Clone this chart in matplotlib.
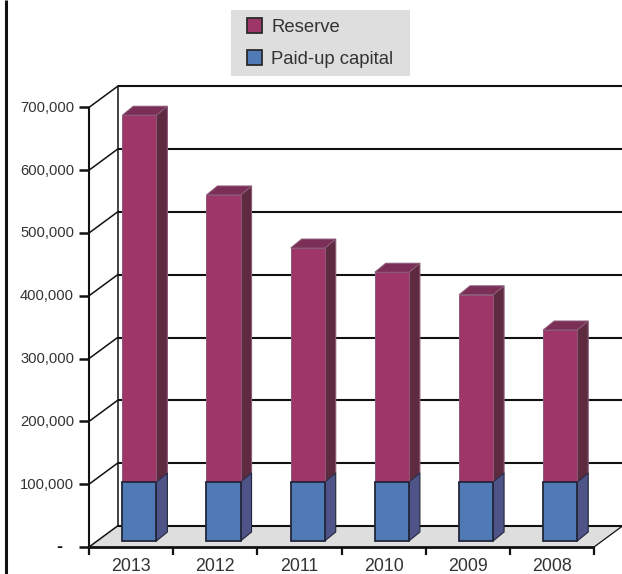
import matplotlib
matplotlib.use("Agg")
import matplotlib.pyplot as plt
from matplotlib.patches import Polygon, Rectangle

years = ["2013", "2012", "2011", "2010", "2009", "2008"]
paid_up_capital = [94000, 94000, 94000, 94000, 94000, 94000]
reserve = [584000, 457000, 372500, 334000, 298000, 242000]
y_ticks = [0, 100000, 200000, 300000, 400000, 500000, 600000, 700000]

RESERVE_FRONT, RESERVE_TOP, RESERVE_SIDE = "#9e3768", "#7b2f57", "#5e2a3f"
CAPITAL_FRONT, CAPITAL_SIDE = "#4f7ab5", "#4f5488"
INK = "#111111"
TEXT = "#333333"
FLOOR = "#dedede"

plt.rcParams["font.family"] = ["Liberation Sans", "DejaVu Sans"]

W, H = 622, 574
fig = plt.figure(figsize=(W / 100, H / 100), dpi=100)
ax = fig.add_axes([0, 0, 1, 1])

# One category is 84.17 px wide, 100,000 is 62.8 px tall; origin at (89, 547) px.
cat_px, val_px = 84.17, 62.8 / 100000
ax.set_xlim(-89 / cat_px, (W - 89) / cat_px)
ax.set_ylim(-(H - 547) / val_px, 547 / val_px)
ax.axis("off")

n = len(years)
top = y_ticks[-1]
# Oblique depth of the chart box and of each bar, in axis units.
box_dx, box_dy = 28.5 / cat_px, 21 / val_px
bar_dx, bar_dy = 11 / cat_px, 9 / val_px
bar_width = 0.405
# Bars stand on the floor, slightly behind the front edge.
inset_dy = 6 / val_px

# Floor
ax.add_patch(Polygon([(0, 0), (n, 0), (n + box_dx, box_dy), (box_dx, box_dy)],
                     fc=FLOOR, ec="none", zorder=1))

# Back wall gridlines, side wall connectors and axis lines
for v in y_ticks:
    ax.plot([box_dx, n + box_dx], [v + box_dy, v + box_dy], color=INK, lw=1.5,
            zorder=2, solid_capstyle="butt")
    ax.plot([0, box_dx], [v, v + box_dy], color=INK, lw=1.1, zorder=2)
    ax.plot([-10 / cat_px, 0], [v, v], color=INK, lw=1.8, zorder=2,
            solid_capstyle="butt")
    if v:
        ax.text(-15 / cat_px, v - 500, f"{v:,}", ha="right", va="center",
                fontsize=10.6, color=TEXT)
    else:
        ax.text(-27 / cat_px, v - 1500, "-", ha="right", va="center",
                fontsize=13, color=INK, fontweight="bold")

ax.plot([box_dx, box_dx], [box_dy, top + box_dy], color=INK, lw=1.1, zorder=2)
ax.plot([0, 0], [0, top], color=INK, lw=1.5, zorder=2, solid_capstyle="butt")
ax.plot([0, n], [0, 0], color=INK, lw=2, zorder=2, solid_capstyle="butt")
ax.plot([n, n + box_dx], [0, box_dy], color=INK, lw=0.9, zorder=2)

for i in range(n + 1):
    ax.plot([i, i], [0, -8 / val_px], color=INK, lw=1.6, zorder=2,
            solid_capstyle="butt")


def draw_block(x0, y0, y1, front, side, edge, top_c=None):
    x1 = x0 + bar_width
    ax.add_patch(Polygon([(x1, y0), (x1 + bar_dx, y0 + bar_dy),
                          (x1 + bar_dx, y1 + bar_dy), (x1, y1)],
                         fc=side, ec=edge, lw=0.8, zorder=4))
    if top_c is not None:
        ax.add_patch(Polygon([(x0, y1), (x1, y1), (x1 + bar_dx, y1 + bar_dy),
                              (x0 + bar_dx, y1 + bar_dy)],
                             fc=top_c, ec=edge, lw=0.7, zorder=4))
    ax.add_patch(Rectangle((x0, y0), bar_width, y1 - y0, fc=front, ec=edge,
                           lw=1.3 if edge == "#22263a" else 0.7, zorder=5))


for i, (cap, res) in enumerate(zip(paid_up_capital, reserve)):
    x0 = i + 33.3 / cat_px
    base = inset_dy
    draw_block(x0, base + cap, base + cap + res, RESERVE_FRONT, RESERVE_SIDE,
               "#8a5a78", RESERVE_TOP)
    draw_block(x0, base, base + cap, CAPITAL_FRONT, CAPITAL_SIDE, "#22263a")
    ax.text(i + 0.5, -19.5 / val_px, years[i], ha="center", va="center",
            fontsize=12.8, color=TEXT)

# Frame rule along the left edge
ax.plot([(6 - 89) / cat_px] * 2, [-(H - 547) / val_px, 547 / val_px],
        color=INK, lw=2.2, zorder=2, solid_capstyle="butt")

# Legend panel
px_x = lambda p: (p - 89) / cat_px
px_y = lambda p: (547 - p) / val_px
ax.add_patch(Rectangle((px_x(231), px_y(76)), 179 / cat_px, 66 / val_px,
                       fc=FLOOR, ec="none", zorder=6))
for label, colour, cy in [("Reserve", RESERVE_FRONT, 25.5), ("Paid-up capital", CAPITAL_FRONT, 57.5)]:
    ax.add_patch(Rectangle((px_x(246.5), px_y(cy + 7.5)), 15 / cat_px, 15 / val_px,
                           fc=colour, ec="#2a2a2a", lw=1.3, zorder=7))
    ax.text(px_x(271), px_y(cy + 1.5), label, ha="left", va="center", fontsize=13.3,
            color=TEXT, zorder=7)

fig.savefig("out.png", dpi=100, facecolor="white")
